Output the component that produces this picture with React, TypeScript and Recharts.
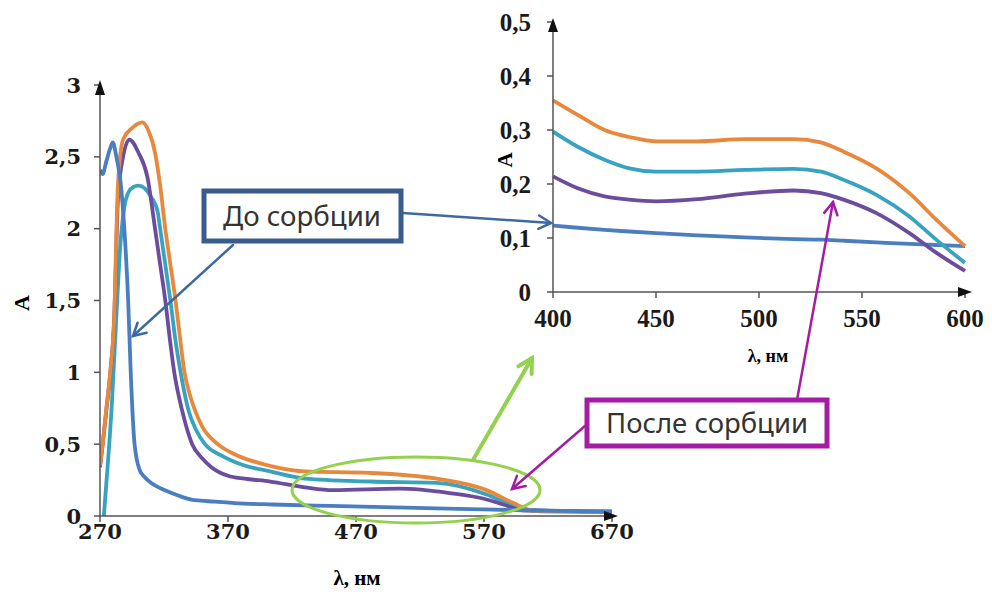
import { LineChart, Line, XAxis, YAxis } from "recharts";

// main spectrum, 270–670 nm: [wavelength, absorbance]
const blueMain = [
  [270, 2.41], [272, 2.38], [275, 2.47], [278, 2.56], [280, 2.6], [283, 2.49], [286, 2.33],
  [289, 2.0], [292, 1.5], [294, 1.0], [297, 0.5], [301, 0.32], [305, 0.27], [310, 0.23],
  [318, 0.19], [326, 0.16], [335, 0.13], [344, 0.11], [360, 0.1], [375, 0.09], [405, 0.08],
  [450, 0.07], [500, 0.06], [550, 0.05], [600, 0.04], [670, 0.03],
];
const orangeMain = [
  [270, 0.35], [272, 0.5], [275, 0.75], [278, 1.0], [281, 1.36], [284, 2.3], [288, 2.62],
  [295, 2.7], [303, 2.74], [308, 2.68], [313, 2.53], [317, 2.3], [321, 2.0], [325, 1.75],
  [329, 1.5], [332, 1.28], [336, 1.0], [340, 0.85], [344, 0.74], [350, 0.62], [362, 0.5],
  [375, 0.43], [390, 0.38], [407, 0.34], [430, 0.31], [480, 0.3], [533, 0.26], [572, 0.18],
  [593, 0.09], [607, 0.04], [620, 0.03], [670, 0.03],
];
const tealMain = [
  [273, 0.0], [276, 0.35], [279, 0.74], [283, 1.43], [286, 1.9], [289, 2.15], [292, 2.25],
  [296, 2.29], [300, 2.3], [305, 2.28], [310, 2.22], [315, 2.12], [317, 2.0], [321, 1.75],
  [325, 1.5], [329, 1.22], [333, 1.0], [339, 0.74], [345, 0.6], [352, 0.5], [365, 0.42],
  [380, 0.36], [403, 0.31], [430, 0.26], [481, 0.24], [533, 0.23], [572, 0.15], [593, 0.07],
  [607, 0.04], [670, 0.03],
];
const purpleMain = [
  [270, 0.34], [272, 0.49], [275, 0.74], [278, 0.99], [281, 1.35], [284, 2.2], [288, 2.5],
  [293, 2.62], [300, 2.53], [307, 2.36], [313, 2.0], [317, 1.75], [321, 1.5], [325, 1.2],
  [328, 1.0], [334, 0.74], [342, 0.5], [350, 0.4], [357, 0.34], [370, 0.28], [383, 0.26],
  [403, 0.24], [430, 0.2], [452, 0.18], [504, 0.19], [543, 0.16], [570, 0.12], [585, 0.08],
  [600, 0.04], [670, 0.03],
];

// inset, 400–600 nm
const insetNm = [400, 412, 425, 437, 450, 470, 493, 517, 530, 541, 557, 573, 586, 600];
const insetOrange = [0.355, 0.328, 0.3, 0.287, 0.279, 0.279, 0.283, 0.283, 0.277, 0.26, 0.229, 0.183, 0.134, 0.085];
const insetTeal = [0.297, 0.269, 0.245, 0.229, 0.223, 0.223, 0.226, 0.228, 0.223, 0.208, 0.18, 0.14, 0.097, 0.054];
const insetPurple = [0.214, 0.192, 0.177, 0.171, 0.168, 0.172, 0.182, 0.188, 0.183, 0.171, 0.146, 0.109, 0.073, 0.039];
const insetBlue = [0.123, 0.119, 0.115, 0.112, 0.109, 0.105, 0.101, 0.098, 0.097, 0.095, 0.092, 0.089, 0.087, 0.085];

const mainTicksX = [270, 370, 470, 570, 670];
const mainTicksY = [0, 0.5, 1, 1.5, 2, 2.5, 3];
const insetTicksX = [400, 450, 500, 550, 600];
const insetTicksY = [0, 0.1, 0.2, 0.3, 0.4, 0.5];

const BLUE = "#4a7ec0";
const ORANGE = "#e8883c";
const TEAL = "#38a3bf";
const PURPLE = "#6c4c9c";
const AXIS = "#555";
const SERIF = "'Liberation Serif', 'Times New Roman', serif";
const WIDE_SERIF = "'DejaVu Serif', serif";
const SANS = "'Noto Sans', sans-serif";

const toPts = (arr: number[][]) => arr.map(([nm, a]) => ({ nm, a }));
const insetData = insetNm.map((nm, i) => ({
  nm,
  orange: insetOrange[i],
  teal: insetTeal[i],
  purple: insetPurple[i],
  blue: insetBlue[i],
}));

const comma = (v: number) => String(v).replace(".", ",");

// bold serif tick text, like the Excel export
function makeTick(family: string, size: number, vertical: boolean) {
  return (props: any) => {
    const { x, y, payload, textAnchor } = props;
    return (
      <text
        x={x}
        y={y}
        dy={vertical ? "0.36em" : "0.72em"}
        textAnchor={textAnchor}
        style={{ fontFamily: family, fontWeight: 700, fontSize: size, fill: "#1a1a1a" }}
      >
        {comma(payload.value)}
      </text>
    );
  };
}

function Arrow({ x1, y1, x2, y2, color, w, head }: any) {
  const ang = Math.atan2(y2 - y1, x2 - x1);
  const p = (d: number) =>
    `${x2 + head * Math.cos(ang + Math.PI + d)},${y2 + head * Math.sin(ang + Math.PI + d)}`;
  return (
    <g stroke={color} strokeWidth={w} fill="none" strokeLinecap="round">
      <line x1={x1} y1={y1} x2={x2} y2={y2} />
      <polyline points={`${p(0.5)} ${x2},${y2} ${p(-0.5)}`} strokeLinejoin="miter" />
    </g>
  );
}

export default function App() {
  return (
    <div style={{ position: "absolute", left: 0, top: 0, width: 992, height: 592, background: "#fff" }}>
      <div style={{ position: "absolute", left: 0, top: 0 }}>
        <LineChart width={640} height={592} margin={{ top: 85, right: 28, bottom: 46, left: 0 }}>
          <XAxis
            dataKey="nm"
            type="number"
            domain={[270, 670]}
            ticks={mainTicksX}
            allowDataOverflow
            height={30}
            stroke={AXIS}
            strokeWidth={1.5}
            tickSize={6}
            tickMargin={2}
            tick={makeTick(WIDE_SERIF, 21, false)}
          />
          <YAxis
            type="number"
            domain={[0, 3]}
            ticks={mainTicksY}
            width={100}
            stroke={AXIS}
            strokeWidth={1.5}
            tickSize={6}
            tickMargin={13}
            tick={makeTick(WIDE_SERIF, 21, true)}
          />
          <Line data={toPts(tealMain)} dataKey="a" type="monotone" stroke={TEAL} strokeWidth={3.8} dot={false} isAnimationActive={false} />
          <Line data={toPts(purpleMain)} dataKey="a" type="monotone" stroke={PURPLE} strokeWidth={3.8} dot={false} isAnimationActive={false} />
          <Line data={toPts(orangeMain)} dataKey="a" type="monotone" stroke={ORANGE} strokeWidth={3.8} dot={false} isAnimationActive={false} />
          <Line data={toPts(blueMain)} dataKey="a" type="monotone" stroke={BLUE} strokeWidth={3.8} dot={false} isAnimationActive={false} />
        </LineChart>
      </div>

      <div style={{ position: "absolute", left: 480, top: 0 }}>
        <LineChart width={512} height={380} data={insetData} margin={{ top: 22, right: 27, bottom: 58, left: 0 }}>
          <XAxis
            dataKey="nm"
            type="number"
            domain={[400, 600]}
            ticks={insetTicksX}
            height={30}
            stroke={AXIS}
            strokeWidth={1.5}
            tickSize={6}
            tickMargin={11}
            tick={makeTick(SERIF, 25, false)}
          />
          <YAxis
            type="number"
            domain={[0, 0.5]}
            ticks={insetTicksY}
            width={73}
            stroke={AXIS}
            strokeWidth={1.5}
            tickSize={6}
            tickMargin={16}
            tick={makeTick(SERIF, 25, true)}
          />
          <Line dataKey="blue" type="monotone" stroke={BLUE} strokeWidth={3.8} dot={false} isAnimationActive={false} />
          <Line dataKey="purple" type="monotone" stroke={PURPLE} strokeWidth={3.8} dot={false} isAnimationActive={false} />
          <Line dataKey="teal" type="monotone" stroke={TEAL} strokeWidth={3.8} dot={false} isAnimationActive={false} />
          <Line dataKey="orange" type="monotone" stroke={ORANGE} strokeWidth={3.8} dot={false} isAnimationActive={false} />
        </LineChart>
      </div>

      <svg width={992} height={592} style={{ position: "absolute", left: 0, top: 0, pointerEvents: "none" }}>
        {/* axis arrowheads */}
        <polygon points="100,80 95,95 105,95" fill="#111" />
        <polygon points="618,516 604,511 604,521" fill="#111" />
        <polygon points="553,18 548,32 558,32" fill="#111" />
        <polygon points="972,292 958,287 958,297" fill="#111" />

        {/* axis titles */}
        <text x={357} y={585} textAnchor="middle" style={{ fontFamily: SERIF, fontWeight: 700, fontSize: 21 }}>λ, нм</text>
        <text transform="translate(29,303) rotate(-90)" textAnchor="middle" style={{ fontFamily: SERIF, fontWeight: 700, fontSize: 22 }}>A</text>
        <text x={768} y={362} textAnchor="middle" style={{ fontFamily: SERIF, fontWeight: 700, fontSize: 18 }}>λ, нм</text>
        <text transform="translate(512,160) rotate(-90)" textAnchor="middle" style={{ fontFamily: SERIF, fontWeight: 700, fontSize: 21 }}>A</text>

        {/* green ellipse + arrow to inset */}
        <ellipse cx={416} cy={490} rx={124} ry={33} fill="none" stroke="#94d14e" strokeWidth={3} />
        <Arrow x1={473} y1={460} x2={532} y2={358} color="#94d14e" w={4} head={16} />

        {/* before sorption */}
        <Arrow x1={233} y1={245} x2={133} y2={336} color="#3d6a9e" w={2.5} head={14} />
        <Arrow x1={403} y1={213} x2={551} y2={223} color="#3d6a9e" w={2.5} head={14} />
        <rect x={204} y={191} width={197} height={50} fill="#fff" stroke="#385d8a" strokeWidth={5} />
        <text x={302} y={226} textAnchor="middle" style={{ fontFamily: SANS, fontSize: 27, fill: "#333" }} textLength={158} lengthAdjust="spacingAndGlyphs">До сорбции</text>

        {/* after sorption */}
        <Arrow x1={797} y1={400} x2={833} y2={202} color="#a31ca3" w={2.5} head={14} />
        <Arrow x1={585} y1={426} x2={512} y2={489} color="#a31ca3" w={2.5} head={14} />
        <rect x={587} y={400} width={240} height={46} fill="#fff" stroke="#a31ca3" strokeWidth={5} />
        <text x={707} y={433} textAnchor="middle" style={{ fontFamily: SANS, fontSize: 27, fill: "#333" }} textLength={202} lengthAdjust="spacingAndGlyphs">После сорбции</text>
      </svg>
    </div>
  );
}
